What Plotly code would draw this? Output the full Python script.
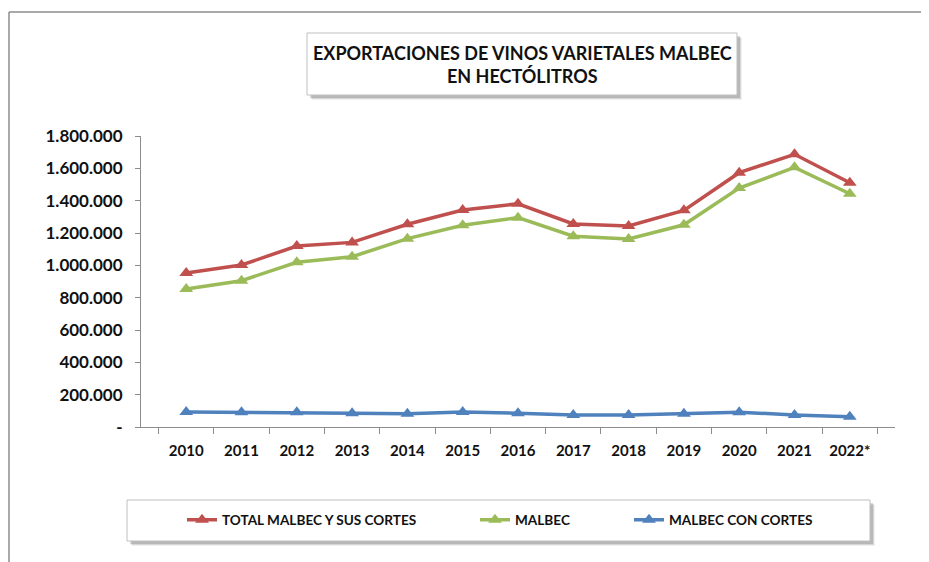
import plotly.graph_objects as go

# Data (hectolitres)
years = ["2010", "2011", "2012", "2013", "2014", "2015", "2016",
         "2017", "2018", "2019", "2020", "2021", "2022*"]
total_malbec = [952000, 1002000, 1119000, 1142000, 1254000, 1342000, 1381000,
                1256000, 1243000, 1340000, 1573000, 1687000, 1511000]
malbec = [854000, 905000, 1019000, 1053000, 1165000, 1248000, 1295000,
          1180000, 1163000, 1251000, 1478000, 1606000, 1443000]
malbec_cortes = [93000, 91000, 92000, 85000, 82000, 93000, 85000,
                 75000, 75000, 82000, 91000, 75000, 64000]

y_ticks = [0, 200000, 400000, 600000, 800000, 1000000, 1200000,
           1400000, 1600000, 1800000]
y_labels = ["-", "200.000", "400.000", "600.000", "800.000", "1.000.000",
            "1.200.000", "1.400.000", "1.600.000", "1.800.000"]

series = [
    ("TOTAL MALBEC Y SUS CORTES", total_malbec, "#C0504D", "legend"),
    ("MALBEC", malbec, "#9BBB59", "legend2"),
    ("MALBEC CON CORTES", malbec_cortes, "#4F81BD", "legend3"),
]

font = "Lato"

fig = go.Figure()
for name, vals, col, leg in series:
    fig.add_trace(go.Scatter(
        x=years, y=vals, name=name, mode="lines+markers",
        line=dict(color=col, width=3.5),
        marker=dict(symbol="triangle-up", size=12, color=col),
        legend=leg, showlegend=True, cliponaxis=False,
    ))

# pixel -> paper helpers (plot area 141..895 x, 136..427 y in the screenshot)
def px(x):
    return (x - 141) / 754

def py(y):
    return (427 - y) / 291

shapes = []
# outer frame (top and left edges)
shapes.append(dict(type="line", xref="paper", yref="paper",
                   x0=px(9), x1=px(935), y0=py(12), y1=py(12),
                   line=dict(color="#8C8C8C", width=1.5)))
shapes.append(dict(type="line", xref="paper", yref="paper",
                   x0=px(9), x1=px(9), y0=py(12), y1=py(570),
                   line=dict(color="#8C8C8C", width=1.5)))

# boxes with soft shadow
def box(x0, y0, x1, y1):
    for off, c in [(5, "rgba(0,0,0,0.06)"), (4, "rgba(0,0,0,0.10)"), (3, "rgba(0,0,0,0.14)")]:
        shapes.append(dict(type="rect", xref="paper", yref="paper",
                           x0=px(x0 + off), x1=px(x1 + off), y0=py(y0 + off), y1=py(y1 + off),
                           line=dict(width=0), fillcolor=c, layer="below"))
    shapes.append(dict(type="rect", xref="paper", yref="paper",
                       x0=px(x0), x1=px(x1), y0=py(y0), y1=py(y1),
                       line=dict(color="#BFBFBF", width=1), fillcolor="white", layer="below"))

box(307, 33, 737, 95)
box(127, 500, 870, 541)

fig.add_annotation(
    xref="paper", yref="paper", x=px(522), y=py(64), yanchor="middle", xanchor="center",
    text="EXPORTACIONES DE VINOS VARIETALES MALBEC<br>EN HECTÓLITROS",
    showarrow=False, align="center",
    font=dict(family=font, size=18, color="#111111", weight="bold"),
)

leg_common = dict(orientation="h", yanchor="middle", y=py(520), xanchor="left",
                  bgcolor="rgba(0,0,0,0)",
                  font=dict(family=font, size=13.6, color="#111111", weight="bold"))

# the page body has an 8px margin, so the figure is drawn 8px smaller
fig.update_layout(
    width=921, height=554,
    margin=dict(l=133, r=34, t=128, b=135),
    paper_bgcolor="white", plot_bgcolor="white",
    shapes=shapes,
    legend=dict(x=px(182), **leg_common),
    legend2=dict(x=px(475), **leg_common),
    legend3=dict(x=px(629), **leg_common),
)

fig.update_xaxes(
    type="category", tickson="boundaries", ticks="outside", ticklen=6,
    tickcolor="#8C8C8C", showline=True, linecolor="#8C8C8C", linewidth=1,
    showgrid=False, zeroline=False, ticklabelstandoff=10,
    tickfont=dict(family=font, size=15, color="#111111", weight="bold"),
)
fig.update_yaxes(
    range=[0, 1800000], tickvals=y_ticks, ticktext=y_labels,
    ticks="outside", ticklen=5, tickcolor="#8C8C8C",
    showline=True, linecolor="#8C8C8C", linewidth=1,
    showgrid=False, zeroline=False, ticklabelstandoff=9,
    tickfont=dict(family=font, size=17, color="#111111", weight="bold"),
)

fig.write_html("out.html")
